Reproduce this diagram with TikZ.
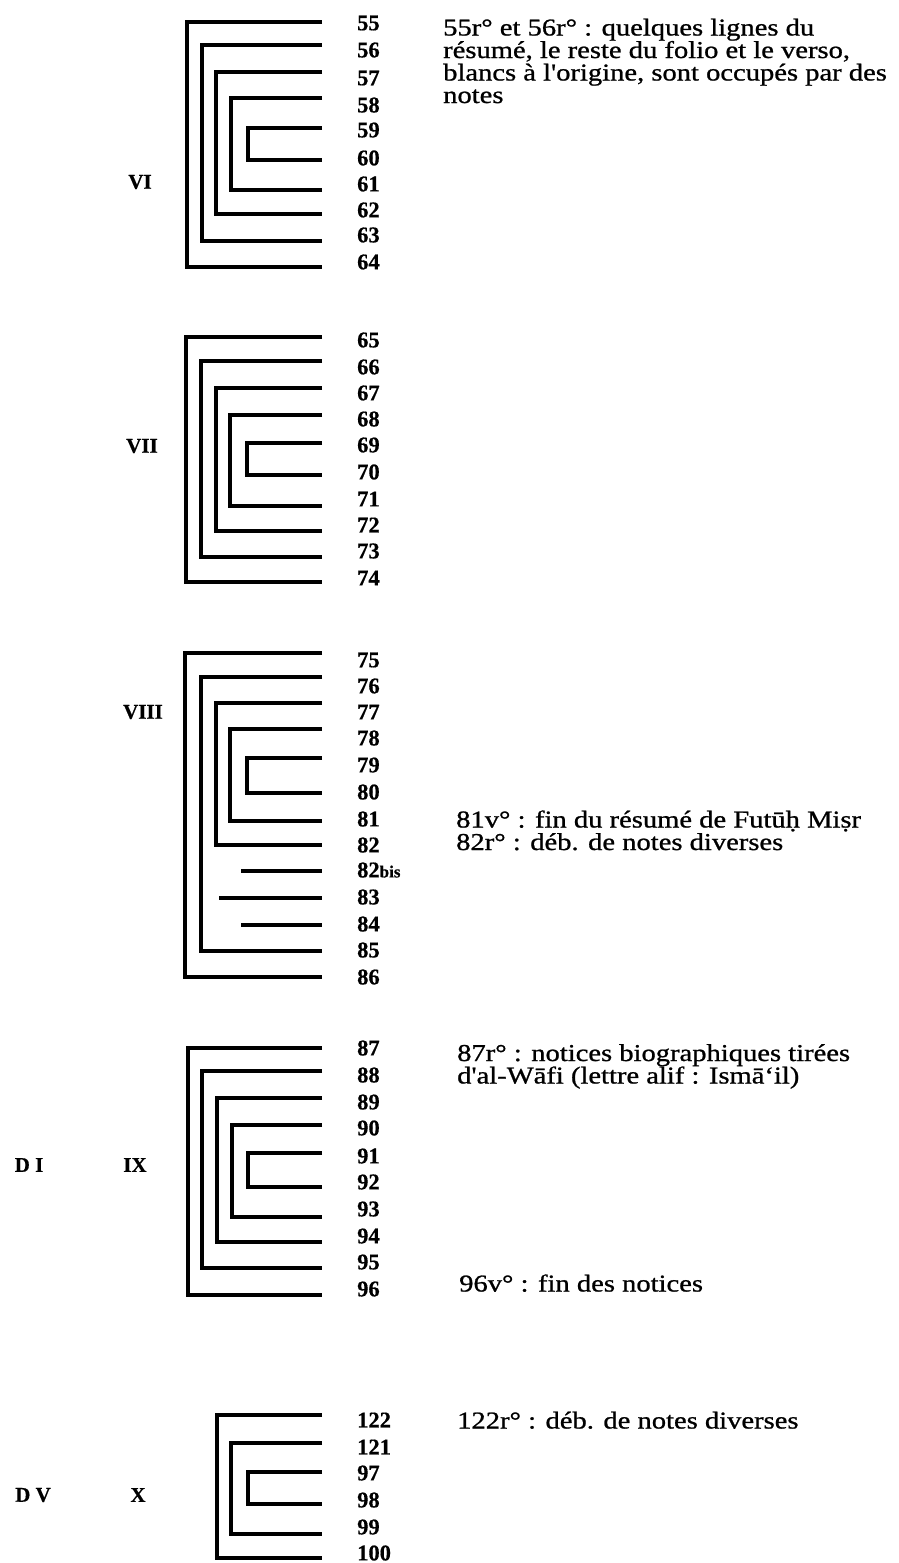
\documentclass[tikz,border=0pt]{standalone}
\usepackage{fontspec}
\setmainfont{Liberation Serif}
\newfontfamily\annfont[FakeBold=0.9,FakeStretch=1.18]{Liberation Serif}
\newfontfamily\numfont[FakeBold=0.5]{Liberation Serif Bold}
\newcommand\qbrack[3]{\draw[brk] (322,-#2) -- (#1,-#2) -- (#1,-#3) -- (322,-#3);}
\newcommand\qbar[2]{\draw[brk] (#1,-#2) -- (322,-#2);}
\tikzset{
  brk/.style={line width=3.4pt, line cap=butt, line join=miter},
  num/.style={anchor=west, inner sep=0pt, font=\numfont\fontsize{22.5}{22.5}\selectfont},
  roman/.style={inner sep=0pt, font=\numfont\fontsize{21}{21}\selectfont},
  ann/.style={anchor=base west, inner sep=0pt, align=left, font=\annfont\fontsize{24.2}{22.5}\selectfont},
}
\begin{document}
\begin{tikzpicture}[x=1pt,y=1pt]
\useasboundingbox (0,0) rectangle (898,-1563);
% ---- Group VI
\qbrack{187}{22}{267}
\qbrack{202}{45}{241}
\qbrack{216}{72}{214}
\qbrack{231}{98}{190}
\qbrack{248}{128}{160}
\node[roman] (r6) at (140,-182) {VI};
\foreach \t/\y in {55/23,56/50,57/78,58/105,59/130,60/158,61/184,62/210,63/235,64/262}
  \node[num] (n\t) at (357,-\y) {\t};
\node[ann] (a55) at (443,-103) {55r° et 56r° : quelques lignes du\\résumé, le reste du folio et le verso,\\blancs à l'origine, sont occupés par des\\notes};
% ---- Group VII
\qbrack{186}{337}{582}
\qbrack{201}{361}{557}
\qbrack{216}{388}{531}
\qbrack{230}{415}{506}
\qbrack{247}{443}{475}
\node[roman] (r7) at (142,-446) {VII};
\foreach \t/\y in {65/340,66/367,67/393,68/419,69/445,70/472,71/499,72/525,73/551,74/578}
  \node[num] (n\t) at (357,-\y) {\t};
% ---- Group VIII
\qbrack{185}{653}{977}
\qbrack{201}{677}{951}
\qbrack{216}{703}{845}
\qbrack{230}{729}{821}
\qbrack{247}{758}{793}
\qbar{241}{871}
\qbar{219}{898}
\qbar{241}{925}
\node[roman] (r8) at (143,-712) {VIII};
\foreach \t/\y in {75/660,76/686,77/712,78/738,79/765,80/792,81/819,82/845,83/897,84/924,85/950,86/977}
  \node[num] (n\t) at (357,-\y) {\t};
\node[num] (n82bis) at (357,-870) {82{\fontsize{17}{17}\selectfont bis}};
\node[ann] (a81) at (456,-850) {81v° : fin du résumé de Futūḥ Miṣr\\82r° : déb. de notes diverses};
% ---- Group IX
\qbrack{188}{1048}{1295}
\qbrack{202}{1071}{1268}
\qbrack{217}{1098}{1242}
\qbrack{232}{1125}{1217}
\qbrack{248}{1153}{1187}
\node[roman] (r9) at (135,-1165) {IX};
\node[roman] (d1) at (29,-1165) {D I};
\foreach \t/\y in {87/1048,88/1075,89/1102,90/1128,91/1156,92/1182,93/1209,94/1236,95/1262,96/1289}
  \node[num] (n\t) at (357,-\y) {\t};
\node[ann] (a87) at (457,-1083.5) {87r° : notices biographiques tirées\\d'al-Wāfi (lettre alif : Ismā‘il)};
\node[ann] (a96) at (459,-1291.5) {96v° : fin des notices};
% ---- Group X
\qbrack{217}{1415}{1558}
\qbrack{231}{1443}{1534}
\qbrack{248}{1472}{1504}
\node[roman] (r10) at (138,-1495) {X};
\node[roman] (d5) at (33,-1495) {D V};
\foreach \t/\y in {122/1420,121/1447,97/1473,98/1500,99/1527,100/1553}
  \node[num] (m\t) at (357,-\y) {\t};
\node[ann] (a122) at (457,-1428.5) {122r° : déb. de notes diverses};
\end{tikzpicture}
\end{document}
